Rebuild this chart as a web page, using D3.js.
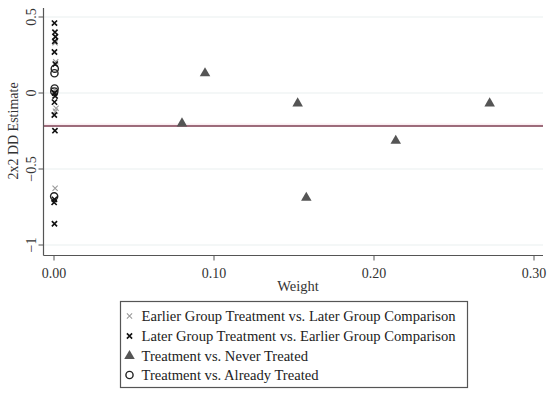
<!DOCTYPE html>
<html>
<head>
<meta charset="utf-8">
<script src="https://cdn.jsdelivr.net/npm/d3@7"></script>
<style>
  body { margin: 0; background: #fff; }
  svg { display: block; }
  svg text { font-family: "Liberation Serif", "DejaVu Serif", serif; }
</style>
</head>
<body>
<svg id="chart" width="550" height="394"></svg>
<script>
// --- Data ---

const xTicks = [0, 0.1, 0.2, 0.3];
const yTicks = [-1, -0.5, 0, 0.5];
const avgEstimate = -0.217;

// Earlier group treatment vs. later group comparison (grey x)
const earlierW = [0.0012, 0.0010, 0.0014, 0.0008, 0.0016, 0.0012, 0.0010];
const earlierEst = [0.37, 0.33, 0.205, 0.02, -0.10, -0.12, -0.627];

// Later group treatment vs. earlier group comparison (black x)
const laterW = [0.0006, 0.0009, 0.0012, 0.0008, 0.0006, 0.0011, 0.0007, 0.0010, 0.0006, 0.0005, 0.0009, 0.0006, 0.0004, 0.0006];
const laterEst = [0.46, 0.40, 0.37, 0.34, 0.27, 0.19, 0.0, -0.02, -0.06, -0.145, -0.248, -0.70, -0.72, -0.86];

// Treatment vs. never treated (triangles)
const neverW = [0.0947, 0.1526, 0.2726, 0.0803, 0.2139, 0.158];
const neverEst = [0.13, -0.068, -0.068, -0.20, -0.314, -0.689];

// Treatment vs. already treated (circles)
const alreadyW = [0.0008, 0.0006, 0.0007, 0.0005, 0.0004];
const alreadyEst = [0.16, 0.13, 0.03, 0.01, -0.68];

const legendLabels = [
  'Earlier Group Treatment vs. Later Group Comparison',
  'Later Group Treatment vs. Earlier Group Comparison',
  'Treatment vs. Never Treated',
  'Treatment vs. Already Treated'
];

// --- Scales ---

const svg = d3.select('#chart');
const x = d3.scaleLinear().domain([0, 0.3]).range([53.5, 533.5]);
const y = d3.scaleLinear().domain([-1, 0.5]).range([245, 17]);

const plotLeft = 43.5, plotRight = 543, plotTop = 8, plotBottom = 255.5;
const serif = '"Liberation Serif", "DejaVu Serif", serif';

// Grid lines
svg.append('g')
  .selectAll('line')
  .data(yTicks)
  .join('line')
  .attr('x1', plotLeft).attr('x2', plotRight)
  .attr('y1', d => y(d)).attr('y2', d => y(d))
  .attr('stroke', '#eaefef').attr('stroke-width', 1.2);

// Average line
svg.append('line')
  .attr('x1', plotLeft).attr('x2', plotRight)
  .attr('y1', y(avgEstimate) - 1.5).attr('y2', y(avgEstimate) - 1.5)
  .attr('stroke', '#fbeef2').attr('stroke-width', 2);
svg.append('line')
  .attr('x1', plotLeft).attr('x2', plotRight)
  .attr('y1', y(avgEstimate)).attr('y2', y(avgEstimate))
  .attr('stroke', '#7d3c50').attr('stroke-width', 1.5);

// --- Axes ---

const yAxis = svg.append('g')
  .attr('transform', `translate(${plotLeft},0)`)
  .call(d3.axisLeft(y).tickValues(yTicks).tickSize(5).tickFormat(d => d === 0 ? '0' : d3.format('')(d).replace('-', '\u2212')));
yAxis.attr('font-family', serif);
yAxis.select('.domain').remove();
yAxis.selectAll('line').attr('stroke', '#555');
yAxis.selectAll('.tick').attr('transform', null);
yAxis.selectAll('.tick line').attr('y1', d => y(d)).attr('y2', d => y(d));
yAxis.selectAll('text')
  .attr('font-size', 14).attr('fill', '#333')
  .attr('x', -8).attr('y', d => y(d)).attr('dy', 0)
  .attr('transform', d => `rotate(-90, -8, ${y(d)})`)
  .attr('text-anchor', 'middle');

svg.append('line')
  .attr('x1', plotLeft).attr('x2', plotLeft)
  .attr('y1', plotTop).attr('y2', plotBottom)
  .attr('stroke', '#555').attr('stroke-width', 1.2);

const xAxis = svg.append('g')
  .attr('transform', `translate(0,${plotBottom})`)
  .call(d3.axisBottom(x).tickValues(xTicks).tickSize(5).tickFormat(d3.format('.2f')));
xAxis.attr('font-family', serif);
xAxis.select('.domain').remove();
xAxis.selectAll('line').attr('stroke', '#555');
xAxis.selectAll('text').attr('font-size', 14).attr('fill', '#333').attr('dy', '1em');

svg.append('line')
  .attr('x1', plotLeft).attr('x2', plotRight)
  .attr('y1', plotBottom).attr('y2', plotBottom)
  .attr('stroke', '#555').attr('stroke-width', 1.2);

// Axis titles
svg.append('text')
  .attr('transform', `translate(15,131) rotate(-90)`)
  .attr('text-anchor', 'middle')
  .attr('dominant-baseline', 'middle')
  .attr('font-size', 14).attr('fill', '#333')
  .text('2x2 DD Estimate');

svg.append('text')
  .attr('x', 298).attr('y', 291)
  .attr('text-anchor', 'middle')
  .attr('font-size', 14.5).attr('fill', '#333')
  .text('Weight');

// --- Marker helpers ---

function cross(g, cx, cy, r, color, sw) {
  g.append('path')
    .attr('d', `M${cx - r},${cy - r}L${cx + r},${cy + r}M${cx - r},${cy + r}L${cx + r},${cy - r}`)
    .attr('stroke', color).attr('stroke-width', sw).attr('fill', 'none');
}

const triangle = d3.symbol().type(d3.symbolTriangle).size(48);

// --- Points ---

const pts = svg.append('g');

d3.zip(earlierW, earlierEst).forEach(([w, e]) => cross(pts, x(w), y(e), 2.6, '#9a9a9a', 1.1));

alreadyW.forEach((w, i) => {
  pts.append('circle')
    .attr('cx', x(w)).attr('cy', y(alreadyEst[i]))
    .attr('r', 3.6)
    .attr('fill', 'none').attr('stroke', '#222').attr('stroke-width', 1.4);
});

d3.zip(laterW, laterEst).forEach(([w, e]) => cross(pts, x(w), y(e), 2.6, '#111', 1.6));

pts.selectAll('path.tri')
  .data(d3.zip(neverW, neverEst))
  .join('path')
  .attr('class', 'tri')
  .attr('d', triangle)
  .attr('transform', d => `translate(${x(d[0])},${y(d[1])})`)
  .attr('fill', '#555');

// --- Legend ---

const legend = svg.append('g');
legend.append('rect')
  .attr('x', 120.5).attr('y', 301.5)
  .attr('width', 347).attr('height', 86)
  .attr('fill', '#fff').attr('stroke', '#555').attr('stroke-width', 1.2);

const rowY = [316, 336, 356, 375];
const symX = 129.5;

cross(legend, symX, rowY[0], 2.6, '#9a9a9a', 1.1);
cross(legend, symX, rowY[1], 2.6, '#111', 1.6);
legend.append('path').attr('d', triangle).attr('transform', `translate(${symX},${rowY[2]})`).attr('fill', '#555');
legend.append('circle').attr('cx', symX).attr('cy', rowY[3]).attr('r', 3.6)
  .attr('fill', 'none').attr('stroke', '#222').attr('stroke-width', 1.4);

legend.selectAll('text.lbl')
  .data(legendLabels)
  .join('text')
  .attr('class', 'lbl')
  .attr('x', 141.5)
  .attr('y', (d, i) => rowY[i])
  .attr('dy', '0.35em')
  .attr('font-size', 14.6).attr('fill', '#222')
  .text(d => d);
</script>
</body>
</html>
